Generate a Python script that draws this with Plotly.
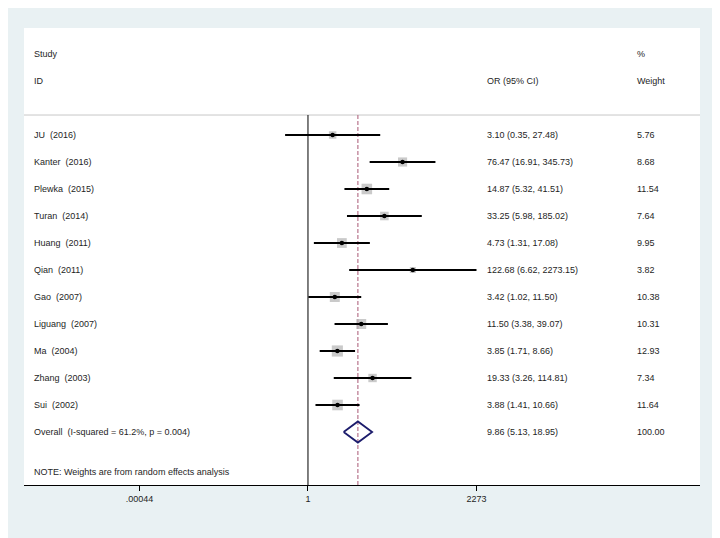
import numpy as np
import plotly.graph_objects as go

studies = ["JU  (2016)", "Kanter  (2016)", "Plewka  (2015)", "Turan  (2014)", "Huang  (2011)",
           "Qian  (2011)", "Gao  (2007)", "Liguang  (2007)", "Ma  (2004)", "Zhang  (2003)", "Sui  (2002)"]
or_est = [3.10, 76.47, 14.87, 33.25, 4.73, 122.68, 3.42, 11.50, 3.85, 19.33, 3.88]
ci_low = [0.35, 16.91, 5.32, 5.98, 1.31, 6.62, 1.02, 3.38, 1.71, 3.26, 1.41]
ci_high = [27.48, 345.73, 41.51, 185.02, 17.08, 2273.15, 11.50, 39.07, 8.66, 114.81, 10.66]
weights = [5.76, 8.68, 11.54, 7.64, 9.95, 3.82, 10.38, 10.31, 12.93, 7.34, 11.64]
overall_label = "Overall  (I-squared = 61.2%, p = 0.004)"
overall = (9.86, 5.13, 18.95)
overall_weight = "100.00"
note = "NOTE: Weights are from random effects analysis"
tick_vals = [0.00044, 1, 2273]
tick_text = [".00044", "1", "2273"]

FONT = "Liberation Sans, Arial, sans-serif"
TXT = "#1e1e1e"
rows = list(range(1, len(studies) + 1))
ov_row = len(studies) + 1

fig = go.Figure()

# CI lines
xs, ys = [], []
for r, lo, hi in zip(rows, ci_low, ci_high):
    xs += [lo, hi, None]
    ys += [r, r, None]
# weight squares
fig.add_trace(go.Scatter(x=or_est, y=rows, mode="markers",
                         marker=dict(symbol="square", size=[3.1 * np.sqrt(w) for w in weights],
                                     color="#b4b4b4", line=dict(width=0)),
                         hoverinfo="skip", showlegend=False))
fig.add_trace(go.Scatter(x=xs, y=ys, mode="lines", line=dict(color="black", width=1.8),
                         hoverinfo="skip", showlegend=False))
# point estimates
fig.add_trace(go.Scatter(x=or_est, y=rows, mode="markers",
                         marker=dict(symbol="circle", size=4.5, color="black"),
                         showlegend=False))
# diamond
est, lo, hi = overall
h = 0.39
fig.add_trace(go.Scatter(x=[lo, est, hi, est, lo], y=[ov_row, ov_row - h, ov_row, ov_row + h, ov_row],
                         mode="lines", line=dict(color="#1c1c6c", width=1.8),
                         hoverinfo="skip", showlegend=False))

ytop = -2.963
ybot = 13.963
sep_y = 0.26

shapes = [
    dict(type="line", xref="paper", yref="y", x0=0, x1=1, y0=sep_y, y1=sep_y,
         line=dict(color="#c8c8c8", width=1), layer="below"),
    dict(type="line", xref="x", yref="y", x0=1, x1=1, y0=sep_y, y1=ybot,
         line=dict(color="black", width=1), layer="below"),
    dict(type="line", xref="x", yref="y", x0=est, x1=est, y0=sep_y, y1=ybot,
         line=dict(color="#b8748c", width=1.2, dash="4px,2px"), layer="below"),
]

ann = []
def txt(x, y, s):
    ann.append(dict(x=x, y=y, xref="paper", yref="y", text=s, showarrow=False,
                    xanchor="left", yanchor="middle", font=dict(family=FONT, size=9, color=TXT)))

x_study, x_or, x_w = 0.0118, 0.682, 0.904
txt(x_study, -2, "Study")
txt(x_study, -1, "ID")
txt(x_or, -1, "OR (95% CI)")
txt(x_w, -2, "%")
txt(x_w, -1, "Weight")
for r, s, e, l, u, w in zip(rows, studies, or_est, ci_low, ci_high, weights):
    txt(x_study, r, s.replace("  ", "\u00a0 "))
    txt(x_or, r, f"{e:.2f} ({l:.2f}, {u:.2f})")
    txt(x_w, r, f"{w:.2f}")
txt(x_study, ov_row, overall_label.replace("  ", "\u00a0 "))
txt(x_or, ov_row, f"{est:.2f} ({lo:.2f}, {hi:.2f})")
txt(x_w, ov_row, overall_weight)
txt(x_study, 13.48, note)

fig.update_layout(
    width=720, height=538,
    margin=dict(l=16, r=28, t=20, b=61),
    paper_bgcolor="#e9f1f3",
    plot_bgcolor="white",
    shapes=shapes,
    annotations=ann,
    xaxis=dict(type="log", range=[-5.657, 7.809], tickvals=tick_vals, ticktext=tick_text,
               showgrid=False, zeroline=False, showline=True, linecolor="black", linewidth=1,
               ticks="outside", ticklen=5, tickcolor="black",
               tickfont=dict(family=FONT, size=9, color=TXT)),
    yaxis=dict(range=[ybot, ytop], showgrid=False, zeroline=False, showticklabels=False,
               showline=False),
    font=dict(family=FONT),
)

fig.write_html("out.html")
